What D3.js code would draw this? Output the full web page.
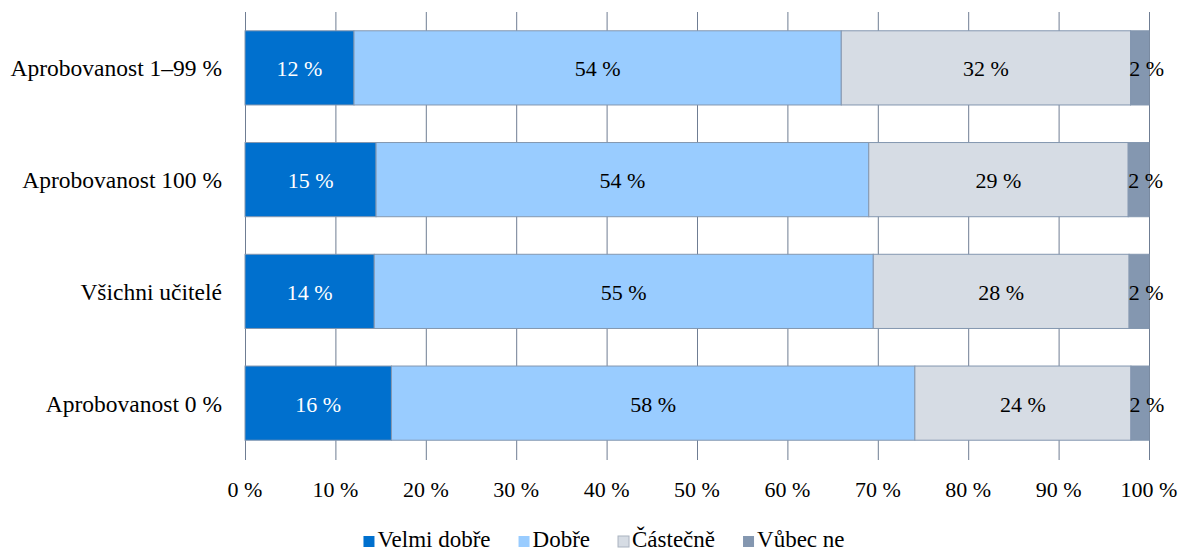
<!DOCTYPE html>
<html><head><meta charset="utf-8">
<script src="https://cdn.jsdelivr.net/npm/d3@7"></script>
<style>
body{margin:0;background:#fff;}
</style></head>
<body><svg id="c" width="1181" height="554" font-family="'Liberation Serif', 'Times New Roman', Tinos, 'DejaVu Serif', serif"></svg>
<script>
const categories = ["Aprobovanost 1–99 %","Aprobovanost 100 %","Všichni učitelé","Aprobovanost 0 %"];
const seriesNames = ["Velmi dobře","Dobře","Částečně","Vůbec ne"];
const velmiDobre = [12.06, 14.5, 14.3, 16.2];
const dobre      = [53.9, 54.5, 55.2, 57.9];
const castecne   = [32.0, 28.7, 28.3, 23.9];
const vubecNe    = [2.04, 2.3, 2.2, 2.0];
const labelsVelmi = ["12 %","15 %","14 %","16 %"];
const labelsDobre = ["54 %","54 %","55 %","58 %"];
const labelsCast  = ["32 %","29 %","28 %","24 %"];
const labelsVubec = ["2 %","2 %","2 %","2 %"];
const tickValues = [0,10,20,30,40,50,60,70,80,90,100];

const colors = ["#0070CE","#99CCFF","#D6DCE4","#8497B0"];
const textColors = ["#ffffff","#000000","#000000","#000000"];
const series = [velmiDobre, dobre, castecne, vubecNe];
const labels = [labelsVelmi, labelsDobre, labelsCast, labelsVubec];

const svg = d3.select("#c");
const x = d3.scaleLinear().domain([0,100]).range([245,1149]);
const y = d3.scaleBand().domain(categories).range([12,459]).paddingInner(0.336).paddingOuter(0.168);

// gridlines
svg.append("g").selectAll("line").data(tickValues).join("line")
  .attr("x1",d=>x(d)+0.5).attr("x2",d=>x(d)+0.5)
  .attr("y1",12).attr("y2",460)
  .attr("stroke","#6f7d93").attr("stroke-width",1);

// bars
categories.forEach((c,i)=>{
  let acc=0;
  series.forEach((s,k)=>{
    const v=s[i];
    const x0=x(acc), x1=x(acc+v);
    svg.append("rect").attr("x",x0).attr("y",y(c)).attr("width",x1-x0).attr("height",y.bandwidth())
      .attr("fill",colors[k]).attr("stroke","#8497B0").attr("stroke-width",1);
    svg.append("text").attr("x",(x0+x1)/2 + (k===3?7:0)).attr("y",y(c)+y.bandwidth()/2+8.5)
      .attr("text-anchor","middle").attr("font-size",22).attr("fill",textColors[k]).text(labels[k][i]);
    acc+=v;
  });
});

// category labels
svg.append("g").selectAll("text").data(categories).join("text")
  .attr("x",222).attr("y",d=>y(d)+y.bandwidth()/2+8.5).attr("text-anchor","end")
  .attr("font-size",23.5).attr("fill","#000").text(d=>d);

// x tick labels
svg.append("g").selectAll("text").data(tickValues).join("text")
  .attr("x",d=>x(d)).attr("y",497).attr("text-anchor","middle")
  .attr("font-size",22).attr("fill","#000").text(d=>d+" %");

// legend
const leg = svg.append("g");
let lx = 0;
seriesNames.forEach((n,k)=>{
  leg.append("rect").attr("x",lx).attr("y",536).attr("width",11).attr("height",11)
    .attr("fill",colors[k]).attr("stroke",k===2?"#aab3c0":"none");
  const t = leg.append("text").attr("x",lx+14).attr("y",547).attr("font-size",23).attr("fill","#000").text(n);
  lx = lx + 14 + t.node().getComputedTextLength() + 28;
});
const legW = lx - 28;
leg.attr("transform",`translate(${604 - legW/2},0)`);
</script></body></html>
